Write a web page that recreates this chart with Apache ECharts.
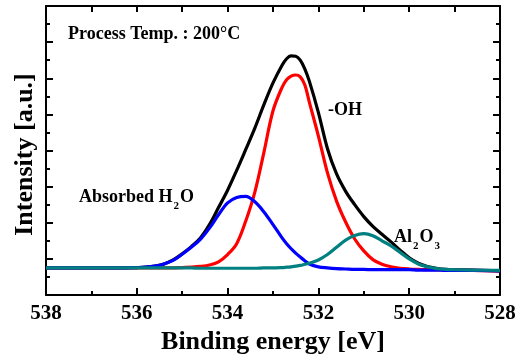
<!DOCTYPE html>
<html>
<head>
<meta charset="utf-8">
<script src="https://cdn.jsdelivr.net/npm/echarts@6/dist/echarts.min.js"></script>
<style>html,body{margin:0;padding:0;background:#fff}#c{width:526px;height:357px}</style>
</head>
<body>
<div id="c"></div>
<script>
const energy = [538, 537, 536.4, 536.0, 535.8, 535.6, 535.4, 535.2, 535.0, 534.8, 534.6, 534.4, 534.2, 534.0, 533.8, 533.6, 533.4, 533.2, 533.0, 532.8, 532.7, 532.6, 532.5, 532.4, 532.3, 532.2, 532.0, 531.8, 531.6, 531.4, 531.2, 531.0, 530.8, 530.6, 530.4, 530.2, 530.0, 529.8, 529.6, 529.4, 529.2, 529.0, 528.6, 528];
const totalFit = [0.75, 0.75, 0.75, 0.76, 0.77, 0.80, 0.86, 0.97, 1.14, 1.34, 1.58, 1.95, 2.42, 2.90, 3.45, 4.03, 4.62, 5.27, 5.87, 6.36, 6.54, 6.62, 6.61, 6.50, 6.26, 5.92, 5.05, 4.05, 3.35, 2.87, 2.50, 2.17, 1.90, 1.68, 1.47, 1.24, 1.03, 0.88, 0.79, 0.74, 0.71, 0.70, 0.69, 0.67];
const ohPeak = [0.75, 0.75, 0.75, 0.75, 0.75, 0.75, 0.75, 0.75, 0.76, 0.77, 0.79, 0.83, 0.92, 1.12, 1.42, 2.05, 2.85, 3.95, 5.10, 5.75, 5.96, 6.06, 6.09, 6.04, 5.82, 5.34, 4.40, 3.38, 2.60, 2.02, 1.55, 1.22, 0.98, 0.85, 0.78, 0.74, 0.72, 0.71, 0.70, 0.70, 0.69, 0.69, 0.68, 0.67];
const h2oPeak = [0.75, 0.75, 0.75, 0.76, 0.77, 0.80, 0.86, 0.96, 1.13, 1.32, 1.54, 1.85, 2.22, 2.55, 2.70, 2.73, 2.58, 2.30, 1.95, 1.58, 1.42, 1.28, 1.16, 1.05, 0.95, 0.86, 0.78, 0.75, 0.73, 0.72, 0.71, 0.71, 0.70, 0.70, 0.70, 0.70, 0.70, 0.69, 0.69, 0.69, 0.68, 0.68, 0.68, 0.67];
const al2o3Peak = [0.75, 0.75, 0.75, 0.75, 0.75, 0.75, 0.75, 0.75, 0.75, 0.75, 0.74, 0.74, 0.74, 0.74, 0.74, 0.74, 0.74, 0.75, 0.75, 0.76, 0.77, 0.78, 0.80, 0.82, 0.85, 0.88, 0.97, 1.12, 1.32, 1.52, 1.65, 1.70, 1.64, 1.50, 1.36, 1.18, 1.00, 0.86, 0.78, 0.73, 0.71, 0.70, 0.69, 0.68];

const FONT = "'Liberation Serif', 'Times New Roman', serif";
const pairs = arr => energy.map((e, i) => [e, arr[i]]);

const chart = echarts.init(document.getElementById('c'), null, {renderer: 'canvas'});
const axisLine = {show: true, onZero: false, lineStyle: {color: '#000', width: 2}};
const option = {
  animation: false,
  backgroundColor: '#fff',
  grid: {left: 46, right: 26, top: 6, bottom: 62, containLabel: false, outerBoundsMode: 'none'},
  xAxis: [{
    type: 'value', min: 528, max: 538, interval: 2, inverse: true, position: 'bottom',
    axisLine: axisLine,
    axisTick: {show: true, inside: true, length: 7, lineStyle: {color: '#000', width: 2}},
    minorTick: {show: true, splitNumber: 2, length: 4, lineStyle: {color: '#000', width: 2}},
    splitLine: {show: false},
    axisLabel: {color: '#000', fontSize: 21, fontWeight: 'bold', fontFamily: FONT, margin: 8},
    name: 'Binding energy [eV]', nameLocation: 'middle', nameGap: 29,
    nameTextStyle: {color: '#000', fontSize: 26, fontWeight: 'bold', fontFamily: FONT}
  }, {
    type: 'value', min: 528, max: 538, interval: 1, inverse: true, position: 'top',
    axisLine: axisLine,
    axisTick: {show: true, inside: true, length: 6, lineStyle: {color: '#000', width: 2}},
    splitLine: {show: false}, axisLabel: {show: false}
  }],
  yAxis: [{
    type: 'value', min: 0, max: 8, interval: 1, position: 'left',
    axisLine: axisLine,
    axisTick: {show: true, inside: true, length: 7, lineStyle: {color: '#000', width: 2}},
    minorTick: {show: true, splitNumber: 2, length: 4, lineStyle: {color: '#000', width: 2}},
    splitLine: {show: false}, axisLabel: {show: false},
    name: 'Intensity [a.u.]', nameLocation: 'middle', nameGap: 8, nameRotate: 90,
    nameTextStyle: {color: '#000', fontSize: 26, fontWeight: 'bold', fontFamily: FONT, padding: [0, 8, 0, 0]}
  }, {
    type: 'value', min: 0, max: 8, interval: 1, position: 'right',
    axisLine: axisLine,
    axisTick: {show: true, inside: true, length: 7, lineStyle: {color: '#000', width: 2}},
    minorTick: {show: true, splitNumber: 2, length: 4, lineStyle: {color: '#000', width: 2}},
    splitLine: {show: false}, axisLabel: {show: false}
  }],
  series: [
    {name: 'Total', type: 'line', data: pairs(totalFit), showSymbol: false, smooth: 0.35, lineStyle: {color: '#000000', width: 3.2}, z: 2},
    {name: '-OH', type: 'line', data: pairs(ohPeak), showSymbol: false, smooth: 0.35, lineStyle: {color: '#ff0000', width: 3.2}, z: 3},
    {name: 'Absorbed H2O', type: 'line', data: pairs(h2oPeak), showSymbol: false, smooth: 0.35, lineStyle: {color: '#0000ff', width: 3.2}, z: 4},
    {name: 'Al2O3', type: 'line', data: pairs(al2o3Peak), showSymbol: false, smooth: 0.35, lineStyle: {color: '#008080', width: 3.2}, z: 5}
  ],
  graphic: [
    {type: 'text', left: 68, top: 25, style: {text: 'Process Temp. : 200°C', fill: '#000', font: "bold 18px " + FONT}},
    {type: 'text', left: 328, top: 101, style: {text: '-OH', fill: '#000', font: "bold 18px " + FONT}},
    {type: 'text', left: 79, top: 188, style: {text: 'Absorbed H{s|2}O', fill: '#000', font: "bold 18px " + FONT,
      rich: {s: {fontSize: 11, fontWeight: 'bold', fontFamily: FONT, verticalAlign: 'bottom', padding: [0, 1, -6, 1], fill: '#000'}}}},
    {type: 'text', left: 394, top: 228, style: {text: 'Al{s|2}O{s|3}', fill: '#000', font: "bold 18px " + FONT,
      rich: {s: {fontSize: 11, fontWeight: 'bold', fontFamily: FONT, verticalAlign: 'bottom', padding: [0, 1, -6, 1], fill: '#000'}}}}
  ]
};
chart.setOption(option);
</script>
</body>
</html>
